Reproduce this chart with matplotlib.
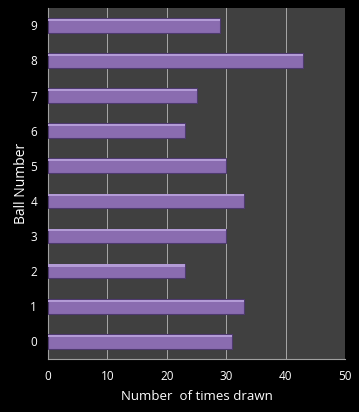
import matplotlib.pyplot as plt

balls = ['0', '1', '2', '3', '4', '5', '6', '7', '8', '9']
times_drawn = [31, 33, 23, 30, 33, 30, 23, 25, 43, 29]

plt.rcParams['font.family'] = ['Open Sans', 'DejaVu Sans']

fig = plt.figure(figsize=(3.59, 4.12), dpi=100, facecolor='black')
ax = fig.add_axes([0.134, 0.129, 0.827, 0.852])
ax.set_facecolor('#404040')

pos = list(range(len(balls)))
h = 0.42
# main bar with a darker outline
ax.barh(pos, times_drawn, height=h, color='#8a6cb0', edgecolor='#4e3a6e',
        linewidth=0.8, zorder=3)
# light strip along the top for the bevel look
ax.barh([p + h * 0.38 for p in pos], times_drawn, height=h * 0.14,
        color='#b39bd6', linewidth=0, zorder=4)

ax.set_xlim(0, 50)
ax.set_ylim(-0.5, 9.5)
ax.set_xticks([0, 10, 20, 30, 40, 50])
ax.set_yticks(pos)
ax.set_yticklabels(balls)
ax.grid(axis='x', color='#a8a8a8', linewidth=0.7, zorder=1)
ax.set_axisbelow(True)

for s in ['top', 'right']:
    ax.spines[s].set_visible(False)
for s in ['left', 'bottom']:
    ax.spines[s].set_color('#a0a0a0')
ax.tick_params(colors='white', labelsize=8.5, length=0, pad=8)

ax.set_xlabel('Number  of times drawn', color='white', fontsize=9.5, labelpad=5)
ax.set_ylabel('Ball Number', color='white', fontsize=10, labelpad=1)

fig.savefig('out.png', dpi=100, facecolor='black')
